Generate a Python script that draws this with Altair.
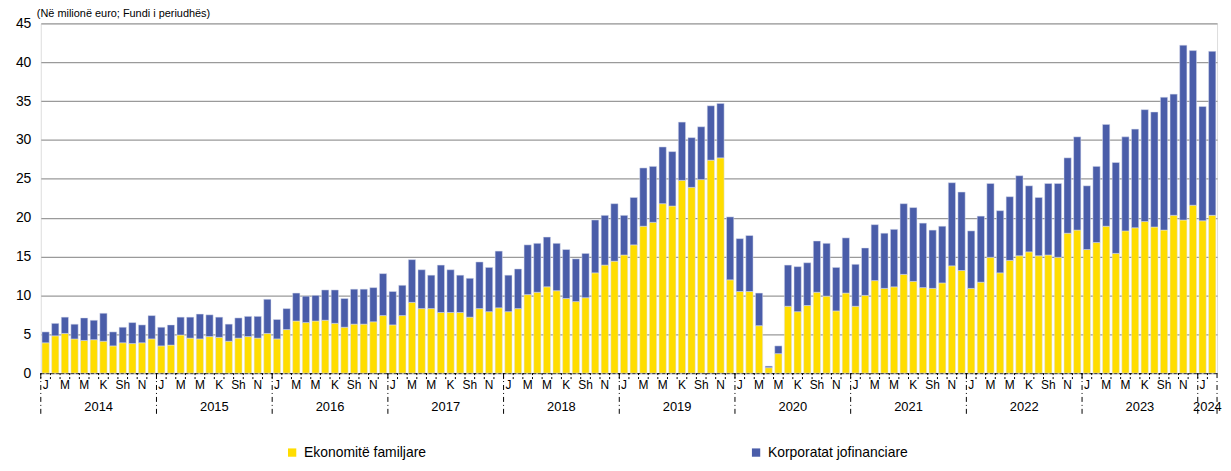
import altair as alt
import pandas as pd

# ---------------- data ----------------
months = [f"{y}-{m:02d}" for y in range(2014, 2024) for m in range(1, 13)] + ["2024-01", "2024-02"]

households = [
    3.9, 4.8, 5.1, 4.4, 4.2, 4.3, 4.1, 3.5, 3.9, 3.8, 3.9, 4.4,      # 2014
    3.5, 3.6, 4.9, 4.5, 4.4, 4.7, 4.6, 4.1, 4.5, 4.7, 4.5, 5.1,      # 2015
    4.4, 5.6, 6.7, 6.5, 6.7, 6.8, 6.4, 5.9, 6.3, 6.3, 6.6, 7.4,      # 2016
    6.2, 7.4, 9.1, 8.3, 8.3, 7.8, 7.8, 7.8, 7.2, 8.3, 7.9, 8.4,      # 2017
    7.9, 8.3, 10.1, 10.4, 11.1, 10.6, 9.6, 9.2, 9.7, 12.9, 13.9, 14.4,  # 2018
    15.2, 16.5, 18.9, 19.4, 21.8, 21.5, 24.8, 23.9, 24.9, 27.4, 27.7, 12.0,  # 2019
    10.5, 10.5, 6.1, 0.7, 2.5, 8.6, 7.9, 8.7, 10.4, 9.9, 8.0, 10.3,  # 2020
    8.6, 10.0, 11.9, 10.9, 11.1, 12.7, 11.8, 11.0, 10.9, 11.6, 13.8, 13.2,  # 2021
    10.9, 11.7, 14.9, 12.9, 14.5, 15.1, 15.6, 15.1, 15.2, 14.9, 18.0, 18.4,  # 2022
    15.9, 16.8, 18.9, 15.4, 18.3, 18.7, 19.5, 18.8, 18.4, 20.3, 19.7, 21.6,  # 2023
    19.6, 20.3,                                                      # 2024
]

corporates = [
    1.4, 1.6, 2.1, 1.9, 2.9, 2.5, 3.6, 1.8, 2.0, 2.7, 2.3, 3.0,      # 2014
    2.4, 2.6, 2.3, 2.7, 3.2, 2.8, 2.6, 2.2, 2.6, 2.6, 2.8, 4.4,      # 2015
    2.5, 2.7, 3.6, 3.4, 3.3, 3.9, 4.3, 3.7, 4.5, 4.5, 4.4, 5.4,      # 2016
    4.3, 3.9, 5.5, 5.0, 4.3, 6.1, 5.5, 4.8, 5.0, 6.0, 5.7, 7.3,      # 2017
    4.7, 5.1, 6.4, 6.3, 6.4, 6.1, 6.3, 5.5, 5.7, 6.8, 6.4, 7.4,      # 2018
    5.1, 6.1, 7.5, 7.2, 7.3, 7.0, 7.5, 6.4, 6.8, 7.0, 7.0, 8.1,      # 2019
    6.8, 7.2, 4.2, 0.2, 1.0, 5.3, 5.8, 5.5, 6.6, 6.8, 5.6, 7.1,      # 2020
    5.4, 6.1, 7.2, 7.1, 7.4, 9.1, 9.5, 8.3, 7.5, 7.3, 10.7, 10.1,    # 2021
    7.4, 8.5, 9.5, 8.0, 8.2, 10.3, 8.5, 7.5, 9.2, 9.5, 9.7, 12.0,    # 2022
    8.2, 9.8, 13.1, 11.7, 12.1, 12.7, 14.4, 14.8, 17.1, 15.6, 22.5, 19.9,  # 2023
    14.7, 21.1,                                                      # 2024
]

series_names = ["Ekonomitë familjare", "Korporatat jofinanciare"]
series_colors = ["#FFDD00", "#4A5DA9"]

year_labels = [str(y) for y in range(2014, 2025)]
year_centers = [f"{y}-07" for y in range(2014, 2024)] + ["2024-02"]
year_starts = [f"{y}-01" for y in range(2014, 2025)]
month_letters = ["J", "", "M", "", "M", "", "K", "", "Sh", "", "N", ""]
y_ticks = [0, 5, 10, 15, 20, 25, 30, 35, 40, 45]
title_text = "(Në milionë euro; Fundi i periudhës)"

# ---------------- tables ----------------
rows = []
for i, m in enumerate(months):
    rows.append({"month": m, "series": series_names[0], "value": households[i], "ord": 0})
    rows.append({"month": m, "series": series_names[1], "value": corporates[i], "ord": 1})
df = pd.DataFrame(rows)
ticks_df = pd.DataFrame({"month": months})
labels_df = pd.DataFrame({"month": months,
                          "lab": [month_letters[int(m[5:7]) - 1] for m in months]})
labels_df = labels_df[labels_df["lab"] != ""]
years_df = pd.DataFrame({"month": year_centers, "label": year_labels})
starts_df = pd.DataFrame({"month": year_starts})
end_df = pd.DataFrame({"month": [months[-1]]})
title_df = pd.DataFrame({"t": [title_text]})

W, H = 1184, 352
FONT = "Liberation Sans"

xscale = alt.Scale(domain=months, paddingInner=0, paddingOuter=0)

x_main = alt.X(
    "month:N", scale=xscale, sort=months, title=None,
    axis=alt.Axis(
        labels=False, ticks=False,
        domainColor="black", domainDash=[3, 2], domainWidth=1, grid=False,
    ),
)

def xb(pos):
    return alt.X("month:N", scale=xscale, sort=months, bandPosition=pos, title=None)

bars = alt.Chart(df).mark_bar(
    width=alt.RelativeBandSize(0.75), stroke="#dde0ee", strokeWidth=0.5
).encode(
    x=x_main,
    y=alt.Y(
        "value:Q", stack="zero", title=None,
        scale=alt.Scale(domain=[0, 45], nice=False),
        axis=alt.Axis(
            values=y_ticks, grid=True, gridColor="#9a9a9a", gridWidth=1.3,
            domain=False, ticks=False, labelPadding=10, labelFontSize=14,
            labelFont=FONT, labelColor="black",
        ),
    ),
    color=alt.Color(
        "series:N", scale=alt.Scale(domain=series_names, range=series_colors),
        legend=alt.Legend(
            title=None, orient="none", legendX=246, legendY=425, direction="horizontal",
            symbolType="square", symbolSize=70, symbolStrokeWidth=0,
            labelFont=FONT, labelFontSize=14, labelColor="black",
            columnPadding=325, labelOffset=5,
        ),
    ),
    order=alt.Order("ord:Q"),
)

month_ticks = alt.Chart(ticks_df).mark_rule(
    color="black", strokeDash=[2, 2], strokeWidth=1
).encode(
    x=xb(0), y=alt.value(H), y2=alt.value(H + 8),
)

month_text = alt.Chart(labels_df).mark_text(
    font=FONT, fontSize=12, color="black", baseline="middle", align="center"
).encode(
    x=xb(0.5), y=alt.value(H + 12), text="lab:N",
)

year_rules = alt.Chart(starts_df).mark_rule(
    color="black", strokeDash=[5, 3, 1, 3], strokeWidth=1
).encode(
    x=xb(0), y=alt.value(H), y2=alt.value(H + 44),
)

end_rule = alt.Chart(end_df).mark_rule(
    color="black", strokeDash=[5, 3, 1, 3], strokeWidth=1
).encode(
    x=xb(1), y=alt.value(H), y2=alt.value(H + 44),
)

year_text = alt.Chart(years_df).mark_text(
    font=FONT, fontSize=13, color="black", baseline="middle", align="center"
).encode(
    x=xb(0), y=alt.value(H + 34), text="label:N",
)

title = alt.Chart(title_df).mark_text(
    font=FONT, fontSize=11, color="black", align="left", baseline="alphabetic"
).encode(
    x=alt.value(-4), y=alt.value(-6), text="t:N",
)

chart = alt.layer(bars, month_ticks, month_text, year_rules, end_rule, year_text, title).properties(
    width=W, height=H,
    autosize=alt.AutoSizeParams(type="none"),
    padding={"left": 33, "top": 14, "right": 6, "bottom": 89},
).configure_view(stroke=None).configure(background="white")

chart.save("out.html", embed_options={"renderer": "svg", "actions": False})
